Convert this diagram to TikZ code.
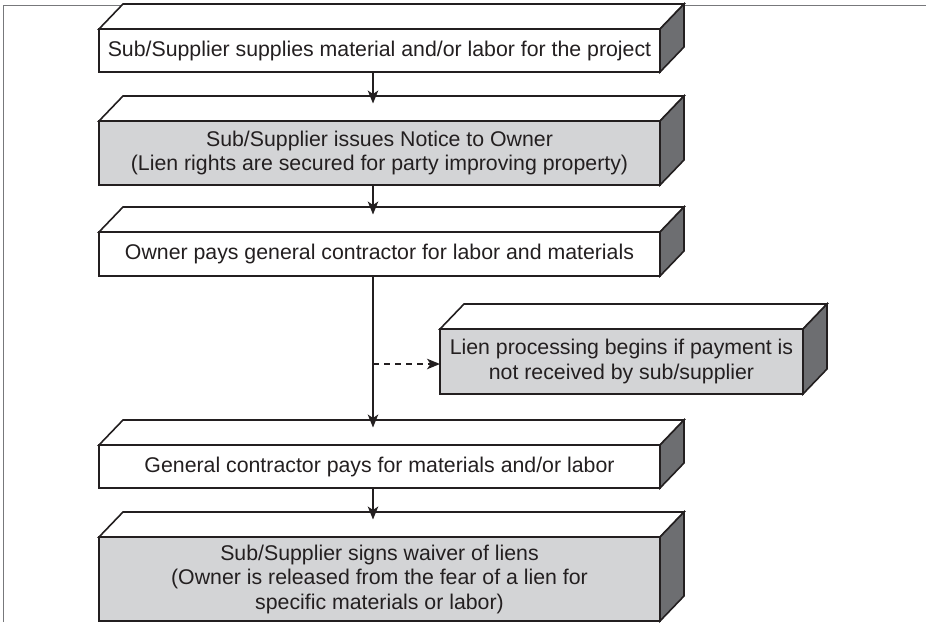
\documentclass[tikz,border=0pt]{standalone}
\usepackage{fontspec}
\setmainfont{Liberation Sans}
\usetikzlibrary{arrows.meta,calc}
\definecolor{ink}{HTML}{231F20}
\definecolor{facegray}{HTML}{D3D4D6}
\definecolor{sidegray}{HTML}{6D6E71}
\definecolor{framegray}{HTML}{77787B}

\tikzset{
  slab/.style={draw=ink, line width=1.6pt, fill=#1, inner sep=0pt, outer sep=0pt,
    minimum width=561pt, align=center, text=ink,
    font=\fontsize{21.3}{24.5}\selectfont},
  slab/.default=white,
  face/.style={draw=ink, line width=1.6pt, line join=miter},
  flow/.style={draw=ink, line width=1.6pt,
    -{Stealth[length=13pt,width=10.5pt,inset=3.5pt]}, shorten >=17.5pt},
  sideflow/.style={draw=ink, line width=1.6pt, dash pattern=on 6pt off 5pt,
    -{Stealth[length=13pt,width=10.5pt,inset=3.5pt]}},
}

% top and right faces of a slab, set behind/above its front face
\newcommand\slabfaces[1]{%
  \filldraw[face, fill=white] (#1.north west) -- ++(24pt,25pt)
    -- ($(#1.north east)+(24pt,25pt)$) -- (#1.north east) -- cycle;
  \filldraw[face, fill=sidegray] (#1.north east) -- ++(24pt,25pt)
    -- ($(#1.south east)+(24pt,25pt)$) -- (#1.south east) -- cycle;
}

\begin{document}
\begin{tikzpicture}[x=1pt, y=-1pt]
\useasboundingbox (0,0) rectangle (926,622);

% page frame
\draw[framegray, line width=0.9pt] (3.5,622) -- (3.5,5.5) -- (926,5.5);

\node[slab, minimum height=43pt] (b1) at (379.5,50.5)
  {Sub/Supplier supplies material and/or labor for the project};
\slabfaces{b1}

\node[slab=facegray, minimum height=64pt] (b2) at (379.5,153)
  {Sub/Supplier issues Notice to Owner\\(Lien rights are secured for party improving property)};
\slabfaces{b2}

\node[slab, minimum height=44pt] (b3) at (379.5,254)
  {Owner pays general contractor for labor and materials};
\slabfaces{b3}

\node[slab=facegray, minimum width=363pt, minimum height=65pt] (b4) at (621.5,361.5)
  {Lien processing begins if payment is\\not received by sub/supplier};
\slabfaces{b4}

\node[slab, minimum height=43pt] (b5) at (379.5,466.5)
  {General contractor pays for materials and/or labor};
\slabfaces{b5}

\node[slab=facegray, minimum height=84pt] (b6) at (379.5,579)
  {Sub/Supplier signs waiver of liens\\(Owner is released from the fear of a lien for\\specific materials or labor)};
\slabfaces{b6}

% main flow line
\coordinate (spine) at (373,0);
\coordinate (tap) at (373,364);
\draw[flow] (b1.south -| spine) -- (b2.north -| spine);
\draw[flow] (b2.south -| spine) -- (b3.north -| spine);
\draw[flow] (b3.south -| spine) -- (b5.north -| spine);
\draw[flow] (b5.south -| spine) -- (b6.north -| spine);
\draw[sideflow] (tap) -- (tap -| b4.west);
\end{tikzpicture}
\end{document}
